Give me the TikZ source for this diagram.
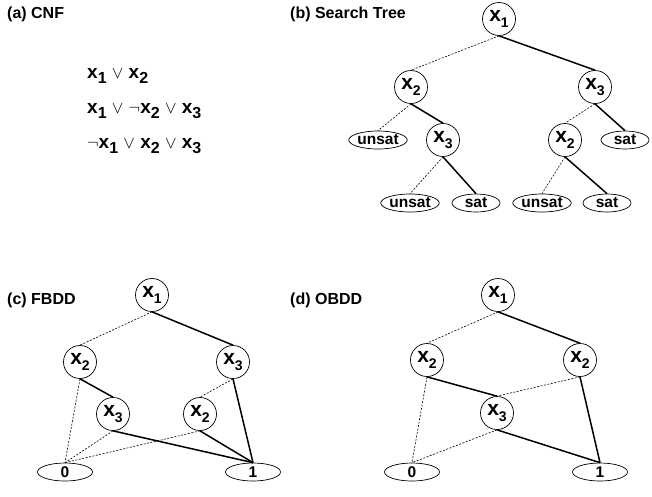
\documentclass[tikz,border=0pt]{standalone}
\usepackage{fontspec}
\setmainfont{Liberation Sans}
\usetikzlibrary{shapes.geometric}
\newcommand\nx[1]{{\fontsize{21}{21}\selectfont\bfseries x\raisebox{-5.5pt}{\fontsize{14}{14}\selectfont #1}}}
\newcommand\fx[1]{x\raisebox{-5pt}{\fontsize{16}{16}\selectfont #1}}
\newcommand\OR{ $\vee$ }
\tikzset{
  lbl/.style={anchor=west, font=\fontsize{16}{16}\selectfont\bfseries, inner sep=0},
  frm/.style={anchor=base west, font=\fontsize{19}{19}\selectfont\bfseries, inner sep=0},
  var/.style={draw, circle, line width=0.7pt, minimum size=33pt, inner sep=0},
  leaf/.style={draw, ellipse, line width=0.7pt, minimum width=48pt, minimum height=18pt, inner sep=0, font=\fontsize{15.5}{15.5}\selectfont\bfseries},
  term/.style={leaf, minimum width=55pt},
  lo/.style={line width=0.6pt, dash pattern=on 2pt off 1.5pt},
  hi/.style={line width=1.5pt},
}
\begin{document}
\begin{tikzpicture}[x=1pt,y=-1pt]
\useasboundingbox (0,0) rectangle (652,496);
% labels
\node[lbl] (la) at (7,14) {(a) CNF};
\node[lbl] (lb) at (290,14) {(b) Search Tree};
\node[lbl] (lc) at (7,300) {(c) FBDD};
\node[lbl] (ld) at (290,300) {(d) OBDD};
% CNF
\node[frm] (f1) at (87,78) {\fx{1}\OR\fx{2}};
\node[frm] (f2) at (87,113) {\fx{1}\OR$\neg$\fx{2}\OR\fx{3}};
\node[frm] (f3) at (87,148) {$\neg$\fx{1}\OR\fx{2}\OR\fx{3}};
% search tree
\node[var] (s1) at (499,19) {\nx{1}};
\node[var] (s2) at (411,87) {\nx{2}};
\node[var] (s3) at (595,87) {\nx{3}};
\node[leaf] (su1) at (378,140) {unsat};
\node[var] (s33) at (443,140) {\nx{3}};
\node[var] (s22) at (565,140) {\nx{2}};
\node[leaf] (ss1) at (625,140) {sat};
\node[leaf] (su2) at (410,203) {unsat};
\node[leaf] (ss2) at (476,203) {sat};
\node[leaf] (su3) at (542,203) {unsat};
\node[leaf] (ss3) at (607,203) {sat};
\draw[lo] (s1.south) -- (s2.north);
\draw[hi] (s1.south) -- (s3.north);
\draw[lo] (s2.south) -- (su1.north);
\draw[hi] (s2.south) -- (s33.north);
\draw[lo] (s3.south) -- (s22.north);
\draw[hi] (s3.south) -- (ss1.north);
\draw[lo] (s33.south) -- (su2.north);
\draw[hi] (s33.south) -- (ss2.north);
\draw[lo] (s22.south) -- (su3.north);
\draw[hi] (s22.south) -- (ss3.north);
% FBDD
\node[var] (c1) at (152,295) {\nx{1}};
\node[var] (c2) at (80,362) {\nx{2}};
\node[var] (c3) at (233,362) {\nx{3}};
\node[var] (c33) at (113,414) {\nx{3}};
\node[var] (c22) at (200,414) {\nx{2}};
\node[term] (c0) at (65,472) {0};
\node[term] (cI) at (253,472) {1};
\draw[lo] (c1.south) -- (c2.north);
\draw[hi] (c1.south) -- (c3.north);
\draw[lo] (c2.south) -- (c0.north);
\draw[hi] (c2.south) -- (c33.north);
\draw[lo] (c3.south) -- (c22.north);
\draw[hi] (c3.south) -- (cI.north);
\draw[lo] (c33.south) -- (c0.north);
\draw[hi] (c33.south) -- (cI.north);
\draw[lo] (c22.south) -- (c0.north);
\draw[hi] (c22.south) -- (cI.north);
% OBDD
\node[var] (d1) at (498,295) {\nx{1}};
\node[var] (d2) at (427,360) {\nx{2}};
\node[var] (d22) at (580,360) {\nx{2}};
\node[var] (d3) at (497,413) {\nx{3}};
\node[term] (d0) at (412,472) {0};
\node[term] (dI) at (600,472) {1};
\draw[lo] (d1.south) -- (d2.north);
\draw[hi] (d1.south) -- (d22.north);
\draw[lo] (d2.south) -- (d0.north);
\draw[hi] (d2.south) -- (d3.north);
\draw[lo] (d22.south) -- (d3.north);
\draw[hi] (d22.south) -- (dI.north);
\draw[lo] (d3.south) -- (d0.north);
\draw[hi] (d3.south) -- (dI.north);
\end{tikzpicture}
\end{document}
